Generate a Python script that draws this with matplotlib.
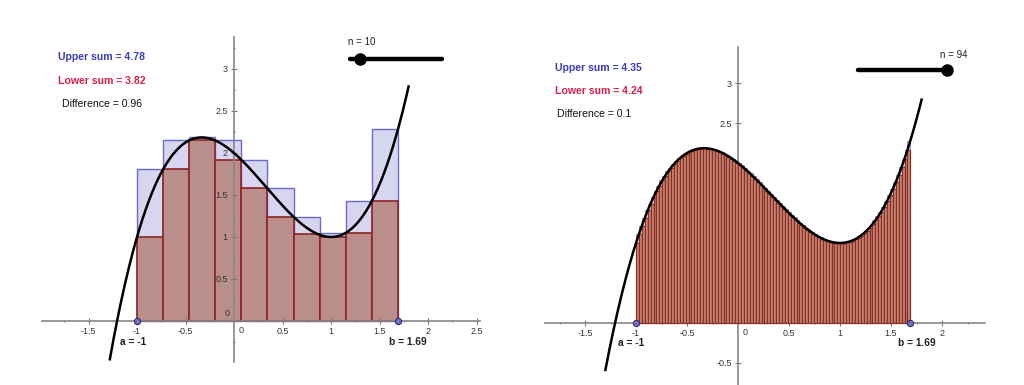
import numpy as np
import matplotlib
matplotlib.use("Agg")
from matplotlib import pyplot as plt
from matplotlib.ticker import AutoMinorLocator

plt.rcParams['font.family'] = ['Liberation Sans', 'DejaVu Sans']

# f(x) = x^3 - x^2 - x + 2 (max ~2.19 at -1/3, min 1 at x=1)
coeffs = [1, -1, -1, 2]
a_val, b_val = -1, 1.69

# left panel, n = 10 (heights)
n_left = 10
upper_left = [1.81, 2.15, 2.19, 2.15, 1.92, 1.58, 1.24, 1.05, 1.43, 2.28]
lower_left = [1.00, 1.81, 2.15, 1.92, 1.58, 1.24, 1.03, 1.00, 1.05, 1.43]
texts_left = ["Upper sum = 4.78", "Lower sum = 3.82", "Difference = 0.96"]

# right panel, n = 94
n_right = 94
texts_right = ["Upper sum = 4.35", "Lower sum = 4.24", "Difference = 0.1"]

xticks_left = [-1.5, -1, -0.5, 0.5, 1, 1.5, 2, 2.5]
yticks_left = [0.5, 1, 1.5, 2, 2.5, 3]
xticks_right = [-1.5, -1, -0.5, 0.5, 1, 1.5, 2]
yticks_right = [-0.5, 0.5, 1, 1.5, 2, 2.5, 3]

W, H = 1024, 385
fig = plt.figure(figsize=(W / 100, H / 100), dpi=100)


def px_axes(x0, x1, y0, y1):
    # pixel box (top-left origin) -> figure axes
    return fig.add_axes([x0 / W, (H - y1) / H, (x1 - x0) / W, (y1 - y0) / H])


def geo_axes(ax, xticks, yticks):
    for s in ['top', 'right']:
        ax.spines[s].set_visible(False)
    ax.spines['left'].set_position(('data', 0))
    ax.spines['bottom'].set_position(('data', 0))
    for s in ['left', 'bottom']:
        ax.spines[s].set_color('#888888')
        ax.spines[s].set_linewidth(1.2)
    ax.set_xticks(xticks)
    ax.set_yticks(yticks)
    ax.set_xticklabels([f"{t:g}" for t in xticks])
    ax.set_yticklabels([f"{t:g}" for t in yticks])
    ax.xaxis.set_minor_locator(AutoMinorLocator(2))
    ax.yaxis.set_minor_locator(AutoMinorLocator(2))
    ax.tick_params(which='both', direction='inout', colors='#777777', labelcolor='#333333',
                   labelsize=6.5, length=4, width=0.8, pad=2.5)
    ax.tick_params(which='minor', length=2)
    ax.text(-0.04, 0.03, "0", fontsize=6.5, color='#333333', ha='right', va='bottom')
    ax.text(0.05, -0.06, "0", fontsize=6.5, color='#333333', ha='left', va='top')
    ax.patch.set_alpha(0)


def curve(ax, x0, x1):
    xs = np.linspace(x0, x1, 400)
    ax.plot(xs, np.polyval(coeffs, xs), color='black', lw=1.8, zorder=5)


def endpoints(ax, bx):
    ax.plot([a_val, b_val], [0, 0], 'o', ms=4.5, mfc='#7070c0', mec='#30306a', mew=0.8,
            zorder=6, clip_on=False)
    ax.text(a_val - 0.18, -0.245, f"a = {a_val}", fontsize=7.3, weight='bold', color='#222222',
            ha='left', va='center')
    ax.text(bx, -0.245, f"b = {b_val}", fontsize=7.3, weight='bold', color='#222222',
            ha='center', va='center')


# ---- left panel
ax1 = px_axes(42, 480, 37, 362)
ax1.set_xlim((42 - 234) / 97, (480 - 234) / 97)
ax1.set_ylim((321 - 362) / 84, (321 - 37) / 84)
geo_axes(ax1, xticks_left, yticks_left)
dx = (b_val - a_val) / n_left
lefts = a_val + dx * np.arange(n_left)
ax1.bar(lefts, upper_left, width=dx, align='edge', color='#d8d5f0', edgecolor='#6a6ad0',
        lw=1.0, zorder=1)
ax1.bar(lefts, lower_left, width=dx, align='edge', color='#b98e8b', edgecolor='#8a2424',
        lw=1.2, zorder=1.5)
curve(ax1, -1.28, 1.8)
endpoints(ax1, 1.79)

# ---- right panel
ax2 = px_axes(545, 985, 47, 385)
ax2.set_xlim((545 - 738) / 102, (985 - 738) / 102)
ax2.set_ylim((323 - 385) / 80, (323 - 47) / 80)
geo_axes(ax2, xticks_right, yticks_right)
dx2 = (b_val - a_val) / n_right
lefts2 = a_val + dx2 * np.arange(n_right)
upper_right, lower_right = [], []
for x0 in lefts2:
    xs = np.linspace(x0, x0 + dx2, 20)
    ys = np.polyval(coeffs, xs)
    upper_right.append(ys.max())
    lower_right.append(ys.min())
ax2.bar(lefts2, upper_right, width=dx2, align='edge', color='#d8d5f0', edgecolor='#6a6ad0',
        lw=0.5, zorder=3)
ax2.bar(lefts2, lower_right, width=dx2, align='edge', color='#c8887a', edgecolor='#8a3020',
        lw=0.9, zorder=3.5)
curve(ax2, -1.3, 1.8)
endpoints(ax2, 1.755)

# ---- overlay for the text boxes and sliders (pixel coords)
ov = fig.add_axes([0, 0, 1, 1])
ov.set_xlim(0, W)
ov.set_ylim(H, 0)
ov.axis('off')
ov.patch.set_alpha(0)

text_colors = ['#3c3cb4', '#d8204c', '#111111']
for i, (t, c) in enumerate(zip(texts_left, text_colors)):
    ov.text(58 + (4 if i == 2 else 0), 57 + 23.5 * i, t, fontsize=7.6, color=c,
            weight='bold' if i < 2 else 'normal', va='center', ha='left')
for i, (t, c) in enumerate(zip(texts_right, text_colors)):
    ov.text(555 + (2 if i == 2 else 0), 68 + 23 * i, t, fontsize=7.6, color=c,
            weight='bold' if i < 2 else 'normal', va='center', ha='left')

# sliders
ov.plot([350, 442], [59, 59], color='black', lw=3.2, solid_capstyle='round')
ov.plot([360], [59], 'o', ms=8, color='black')
ov.text(348, 42, f"n = {n_left}", fontsize=7, color='#222222', va='center', ha='left')

ov.plot([858, 950], [70, 70], color='black', lw=3.2, solid_capstyle='round')
ov.plot([947], [70], 'o', ms=8, color='black')
ov.text(940, 55, f"n = {n_right}", fontsize=7, color='#222222', va='center', ha='left')

fig.savefig('out.png', dpi=100)
